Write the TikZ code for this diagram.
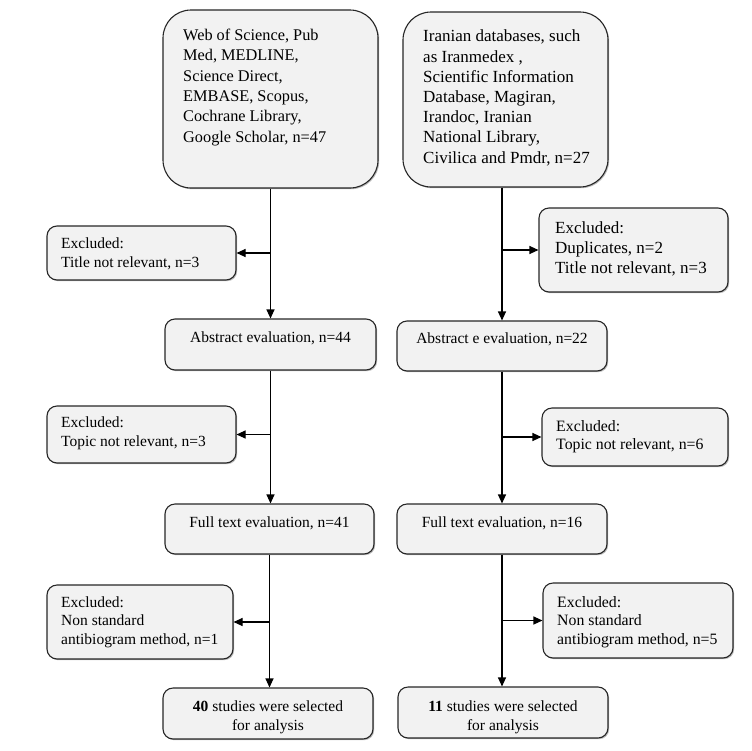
\documentclass[tikz,border=0pt]{standalone}
\usepackage{fontspec}
\setmainfont{Liberation Serif}
\usetikzlibrary{arrows.meta,shadows}
\begin{document}
\begin{tikzpicture}[x=1pt,y=-1pt,
  box/.style={draw=black!85, line width=1.1pt, fill=black!5, rounded corners=10pt, inner sep=0pt,
    drop shadow={shadow xshift=1.2pt, shadow yshift=-1.2pt, fill=black!45, opacity=0.6}},
  bigbox/.style={box, rounded corners=28pt},
  txt/.style={inner sep=0pt, font=\fontsize{15.5}{18.5}\selectfont, align=left, anchor=base west},
  ctxt/.style={inner sep=0pt, font=\fontsize{15.5}{18.5}\selectfont, align=center, anchor=base},
  arr/.style={line width=1.1pt, draw=black, -{Triangle[length=9pt,width=8pt]}}]
\useasboundingbox (0,0) rectangle (752,750);
% boxes
\node[bigbox, minimum width=215pt, minimum height=178pt] (tl) at (270.5,99) {};
\node[bigbox, minimum width=205pt, minimum height=175pt] (tr) at (505.5,99.5) {};
\node[box, minimum width=189pt, minimum height=54pt] (exl1) at (141.5,253) {};
\node[box, minimum width=189pt, minimum height=84pt] (exr1) at (633.5,250) {};
\node[box, minimum width=211pt, minimum height=51pt] (absl) at (270.5,344.5) {};
\node[box, minimum width=210pt, minimum height=50pt] (absr) at (502,346) {};
\node[box, minimum width=189pt, minimum height=57pt] (exl2) at (141.5,434.5) {};
\node[box, minimum width=186pt, minimum height=58pt] (exr2) at (635,437) {};
\node[box, minimum width=209pt, minimum height=50pt] (fulll) at (269.5,529) {};
\node[box, minimum width=210pt, minimum height=50pt] (fullr) at (502,529) {};
\node[box, minimum width=186pt, minimum height=74pt] (exl3) at (140,622) {};
\node[box, minimum width=190pt, minimum height=75pt] (exr3) at (638,620.5) {};
\node[box, minimum width=210pt, minimum height=51pt] (finl) at (268,713.5) {};
\node[box, minimum width=210pt, minimum height=51pt] (finr) at (503,712.5) {};
% texts (anchored at the baseline of their last line)
\node[txt, font=\fontsize{16.3}{20.3}\selectfont] (tlt) at (183,142) {Web of Science, Pub\\Med, MEDLINE,\\Science Direct,\\EMBASE, Scopus,\\Cochrane Library,\\Google Scholar, n=47};
\node[txt, font=\fontsize{17}{20.2}\selectfont] (trt) at (423,163) {Iranian databases, such\\as Iranmedex ,\\Scientific Information\\Database, Magiran,\\Irandoc, Iranian\\National Library,\\Civilica and Pmdr, n=27};
\node[txt, font=\fontsize{15.5}{19}\selectfont] (exl1t) at (61,267) {Excluded:\\Title not relevant, n=3};
\node[txt, font=\fontsize{17}{20}\selectfont] (exr1t) at (555,273) {Excluded:\\Duplicates, n=2\\Title not relevant, n=3};
\node[ctxt] (abslt) at (270.5,342) {Abstract evaluation, n=44};
\node[ctxt] (absrt) at (502,343) {Abstract e evaluation, n=22};
\node[txt] (exl2t) at (61,446) {Excluded:\\Topic not relevant, n=3};
\node[txt, font=\fontsize{15.8}{17.5}\selectfont] (exr2t) at (556,449) {Excluded:\\Topic not relevant, n=6};
\node[ctxt] (fulllt) at (269.5,527) {Full text evaluation, n=41};
\node[ctxt] (fullrt) at (502,527) {Full text evaluation, n=16};
\node[txt] (exl3t) at (61,644) {Excluded:\\Non standard\\antibiogram method, n=1};
\node[txt, font=\fontsize{15.8}{18.5}\selectfont] (exr3t) at (557,644) {Excluded:\\Non standard\\antibiogram method, n=5};
\node[ctxt] (finlt) at (268,730) {\textbf{40} studies were selected\\for analysis};
\node[ctxt] (finrt) at (503,730) {\textbf{11} studies were selected\\for analysis};
% connectors
\draw[arr] (absl.north |- tl.south) -- (absl.north);
\draw[arr] (absl.north |- exl1.east) -- (exl1.east);
\draw[arr] (absr.north |- tr.south) -- (absr.north);
\draw[arr] (absr.north |- exr1.west) -- (exr1.west);
\draw[arr] (absl.south) -- (fulll.north -| absl.south);
\draw[arr] (absl.south |- exl2.east) -- (exl2.east);
\draw[arr] (absr.south) -- (fullr.north -| absr.south);
\draw[arr] (absr.south |- exr2.west) -- (exr2.west);
\draw[arr] (fulll.south) -- (finl.north -| fulll.south);
\draw[arr] (fulll.south |- exl3.east) -- (exl3.east);
\draw[arr] (fullr.south) -- (finr.north -| fullr.south);
\draw[arr] (fullr.south |- exr3.west) -- (exr3.west);
\end{tikzpicture}
\end{document}
